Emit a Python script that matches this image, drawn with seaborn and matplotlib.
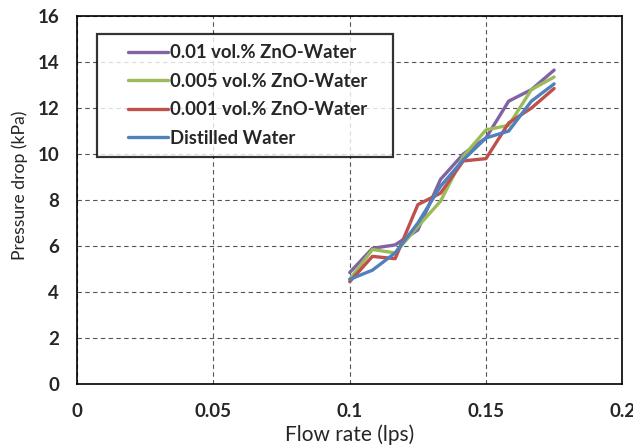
import numpy as np
import pandas as pd
import matplotlib
matplotlib.use('Agg')
import matplotlib.pyplot as plt
from matplotlib.legend_handler import HandlerLine2D
import seaborn as sns

sns.set_theme(style="white")
plt.rcParams['font.family'] = ['Lato', 'DejaVu Sans']

# flow rate 6 .. 10.5 lpm converted to lps
flow_rate = [0.1, 0.10833, 0.11667, 0.125, 0.13333, 0.14167, 0.15, 0.15833, 0.16667, 0.175]

dp_zno_001 = [4.85, 5.9, 6.05, 6.7, 8.9, 10.0, 10.7, 12.3, 12.8, 13.65]
dp_zno_0005 = [4.55, 5.85, 5.7, 6.85, 7.95, 9.9, 11.05, 11.25, 12.8, 13.35]
dp_zno_0001 = [4.45, 5.55, 5.45, 7.8, 8.3, 9.7, 9.8, 11.35, 12.0, 12.85]
dp_water = [4.55, 4.95, 5.7, 7.0, 8.6, 9.75, 10.7, 11.0, 12.3, 13.05]

series_names = ['0.01 vol.% ZnO-Water', '0.005 vol.% ZnO-Water',
                '0.001 vol.% ZnO-Water', 'Distilled Water']
colors = ['#8064A2', '#9BBB59', '#C0504D', '#4F81BD']

frames = []
for name, vals in zip(series_names, [dp_zno_001, dp_zno_0005, dp_zno_0001, dp_water]):
    frames.append(pd.DataFrame({'flow': flow_rate, 'dp': vals, 'fluid': name}))
df = pd.concat(frames, ignore_index=True)


# excel-like legend: line sits in the right part of the handle box
class RightLine(HandlerLine2D):
    def get_xdata(self, legend, xdescent, ydescent, width, height, fontsize):
        xd = np.array([-xdescent + 0.34 * width, -xdescent + width])
        return xd, xd


fig = plt.figure(figsize=(6.33, 4.46), dpi=100)
ax = fig.add_axes([0.122, 0.139, 0.861, 0.825])

sns.lineplot(data=df, x='flow', y='dp', hue='fluid', hue_order=series_names,
             palette=colors, linewidth=2.4, ax=ax, legend=False)

ax.set_xlim(0, 0.2)
ax.set_ylim(0, 16)
ax.set_xticks([0, 0.05, 0.1, 0.15, 0.2])
ax.set_xticklabels(['0', '0.05', '0.1', '0.15', '0.2'])
ax.set_yticks(range(0, 17, 2))

ax.grid(True, color='#555555', linestyle=(0, (4, 3)), linewidth=0.8)
ax.tick_params(length=0, labelsize=13.5)
ax.tick_params(axis='y', pad=13)
ax.tick_params(axis='x', pad=14)
for lab in ax.get_xticklabels() + ax.get_yticklabels():
    lab.set_fontweight('bold')
for sp in ax.spines.values():
    sp.set_color('black')
    sp.set_linewidth(1.2)

ax.set_xlabel('Flow rate (lps)', fontsize=15, labelpad=3)
ax.set_ylabel('Pressure drop (kPa)', fontsize=12.6)
ax.yaxis.set_label_coords(-0.09, 0.54)

handles = [plt.Line2D([], [], color=c, linewidth=2.4) for c in colors]
leg = ax.legend(handles, series_names, loc='upper left',
                bbox_to_anchor=(0.0367, 0.628, 0.543, 0.323), mode='expand',
                borderaxespad=0, frameon=True, fancybox=False, handlelength=3.3,
                handletextpad=0.1, labelspacing=0.62, borderpad=0.55,
                handler_map={plt.Line2D: RightLine()},
                prop={'size': 13.3, 'weight': 'bold'})
leg.get_frame().set_edgecolor('black')
leg.get_frame().set_linewidth(1.6)

fig.savefig('out.png', dpi=100)
